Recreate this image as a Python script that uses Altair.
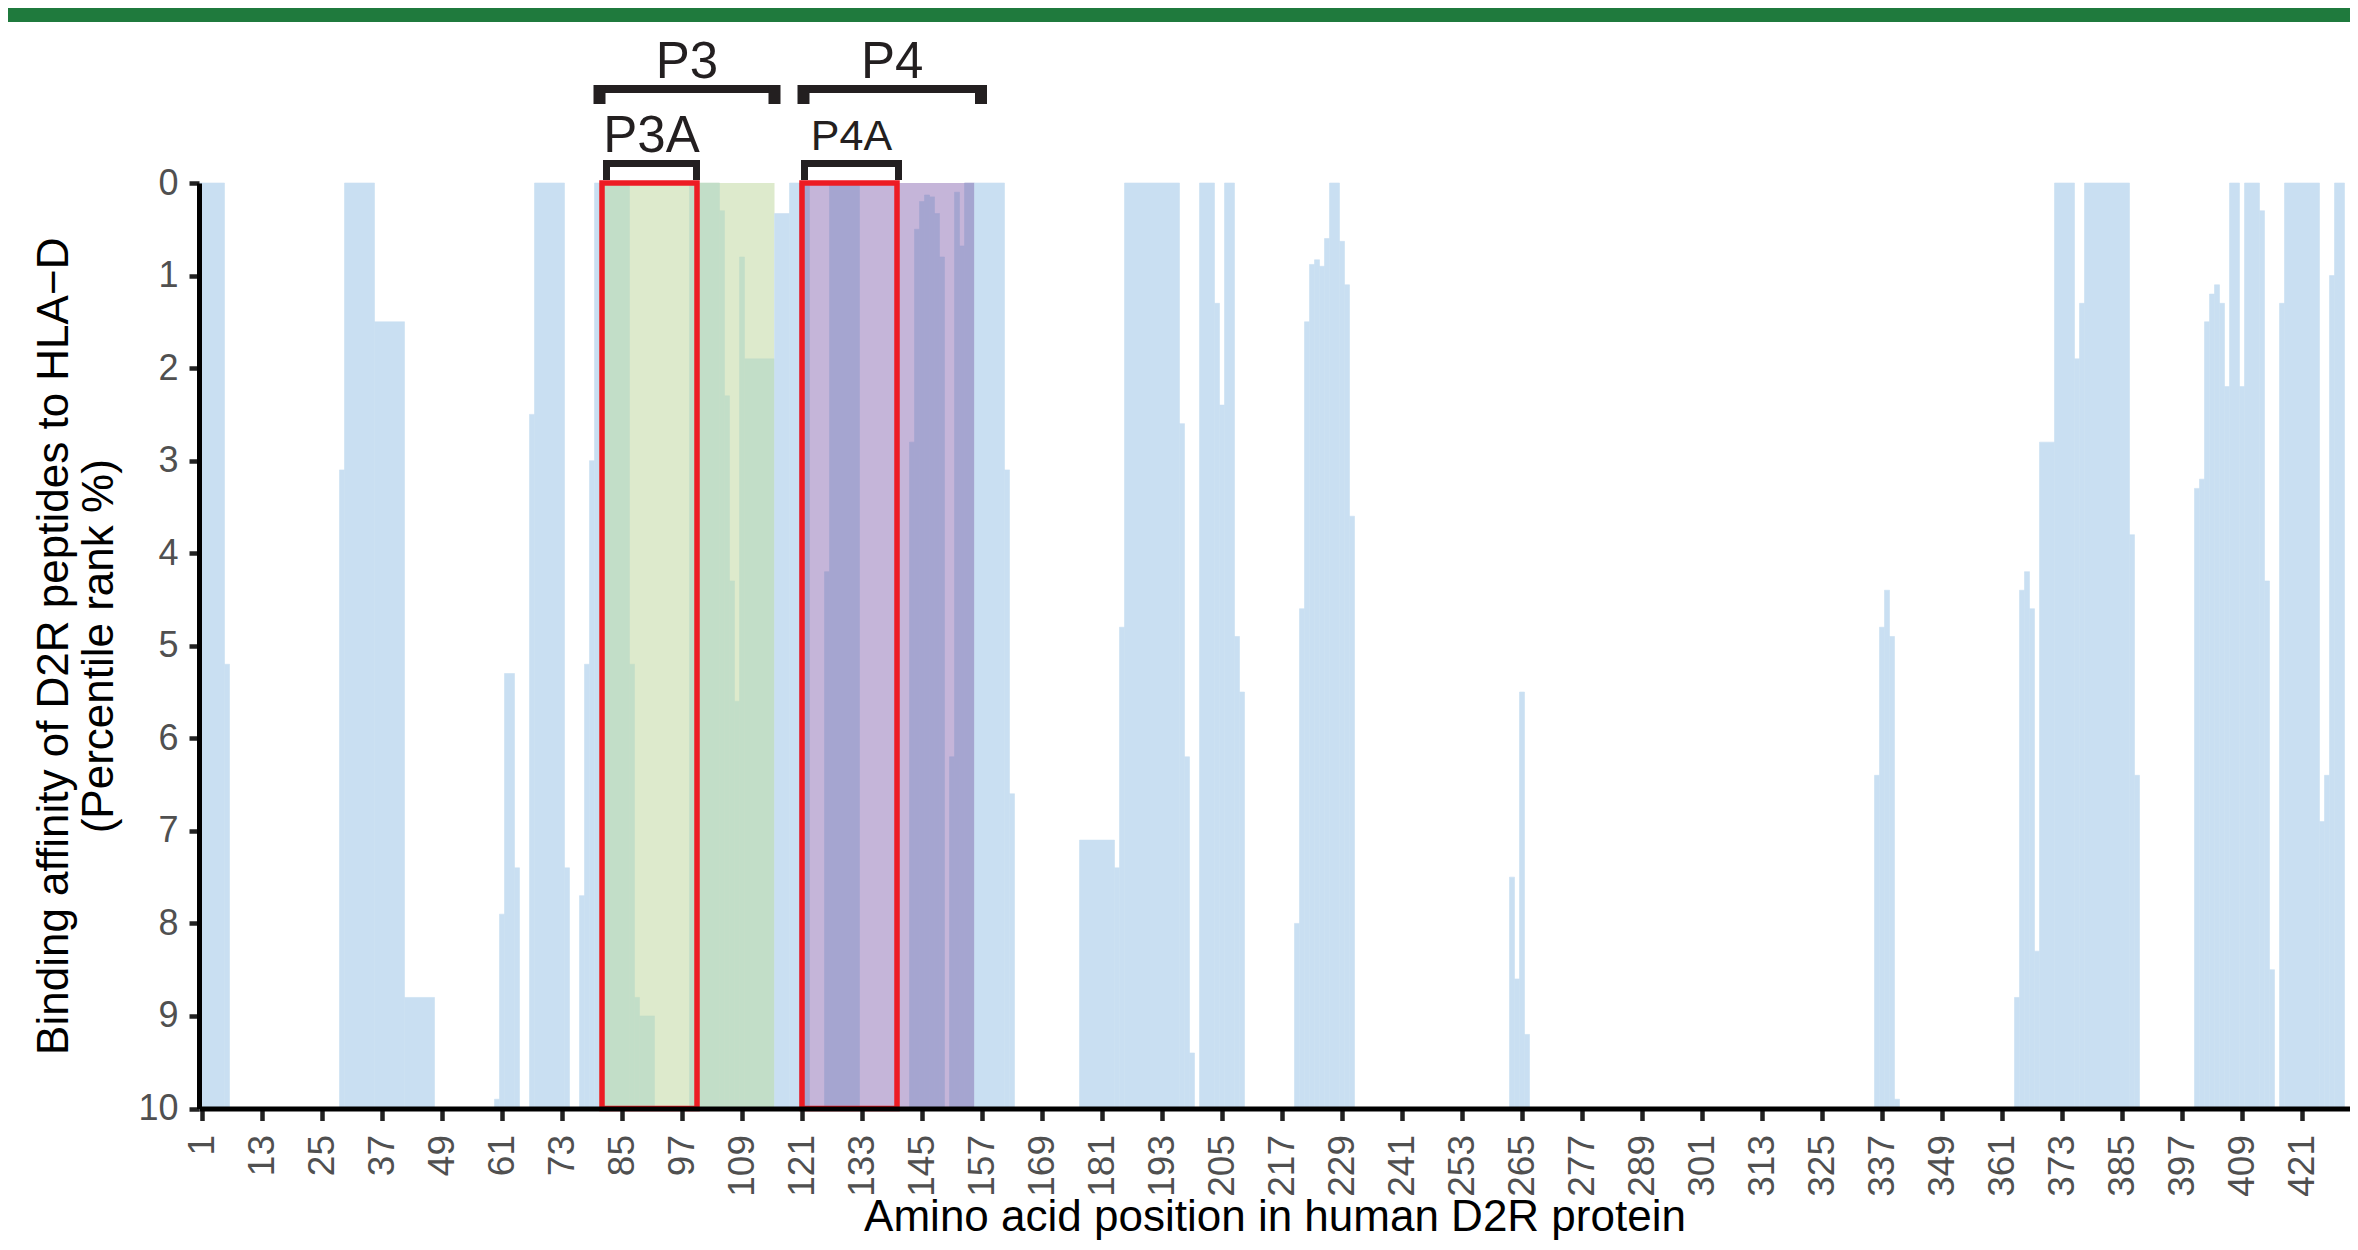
import altair as alt
import pandas as pd

# ---- data ----
# runs of residues with the same percentile rank (bars hang from 10 up to the value)
run_start = [1, 6, 29, 30, 36, 42, 60, 61, 62, 64, 67, 68, 74, 77, 78, 79, 80, 81, 87, 88, 89,
             99, 105, 106, 107, 108, 109, 110, 116, 119, 121, 126, 127, 143, 144, 145, 146, 147,
             148, 149, 151, 152, 153, 154, 156, 162, 163, 177, 184, 185, 186, 197, 198, 199, 201,
             204, 205, 206, 208, 209, 220, 221, 222, 223, 224, 225, 226, 227, 229, 230, 231, 263,
             264, 265, 266, 336, 337, 338, 339, 340, 364, 365, 366, 367, 368, 369, 372, 376, 377,
             378, 387, 388, 400, 401, 402, 403, 404, 405, 406, 407, 409, 410, 413, 414, 415, 417,
             418, 425, 426, 427, 428]
run_end = [5, 6, 29, 35, 41, 47, 60, 61, 63, 64, 67, 73, 74, 77, 78, 79, 80, 86, 87, 88, 91,
           104, 105, 106, 107, 108, 109, 115, 118, 120, 122, 126, 132, 143, 144, 145, 146, 147,
           148, 149, 151, 152, 153, 155, 161, 162, 163, 183, 184, 185, 196, 197, 198, 199, 203,
           204, 205, 207, 208, 209, 220, 221, 222, 223, 224, 225, 226, 228, 229, 230, 231, 263,
           264, 265, 266, 336, 337, 338, 339, 340, 364, 365, 366, 367, 368, 371, 375, 376, 377,
           386, 387, 388, 400, 401, 402, 403, 404, 405, 406, 408, 409, 412, 413, 414, 415, 417,
           424, 425, 426, 427, 429]
run_value = [0, 5.2, 3.1, 0, 1.5, 8.8, 9.9, 7.9, 5.3, 7.4, 2.5, 0, 7.4, 7.7, 5.2, 3.0, 0, 0, 5.2, 8.8, 9.0,
             0, 0.3, 2.3, 4.3, 5.6, 0.8, 1.9, 0.33, 0, 0, 4.2, 0, 2.8, 0.5, 0.2, 0.13, 0.15,
             0.33, 0.8, 6.2, 0.1, 0.68, 0, 0, 3.1, 6.6, 7.1, 7.4, 4.8, 0, 2.6, 6.2, 9.4, 0,
             1.3, 2.4, 0, 4.9, 5.5, 8.0, 4.6, 1.5, 0.88, 0.83, 0.9, 0.6, 0, 0.63, 1.1, 3.6, 7.5,
             8.6, 5.5, 9.2, 6.4, 4.8, 4.4, 4.9, 9.9, 8.8, 4.4, 4.2, 4.6, 8.3, 2.8, 0, 1.9, 1.3,
             0, 3.8, 6.4, 3.3, 3.2, 1.5, 1.2, 1.1, 1.3, 2.2, 0, 2.2, 0, 0.3, 4.3, 8.5, 1.3,
             0, 6.9, 6.4, 1.0, 0]

# shaded peptide regions (residues)
region_name = ["P3", "P4"]
region_first = [81, 121]
region_last = [115, 155]

# red boxes (sub-peptides)
box_name = ["P3A", "P4A"]
box_left = [81, 121]
box_right = [100, 140]

# brackets above the plot
bracket_label = ["P3", "P4", "P3A", "P4A"]
bracket_level = ["outer", "outer", "inner", "inner"]
bracket_left = [80.5, 121.3, 81.9, 121.5]
bracket_right = [115.5, 156.8, 99.9, 140.3]

x_ticks = [1, 13, 25, 37, 49, 61, 73, 85, 97, 109, 121, 133, 145, 157, 169, 181, 193, 205, 217,
           229, 241, 253, 265, 277, 289, 301, 313, 325, 337, 349, 361, 373, 385, 397, 409, 421]
y_ticks = [0, 1, 2, 3, 4, 5, 6, 7, 8, 9, 10]

x_title = "Amino acid position in human D2R protein"
y_title = ["Binding affinity of D2R peptides to HLA\u2212D", "(Percentile rank %)"]

# ---- build tables ----
def region_of(s):
    for n, a, b in zip(region_name, region_first, region_last):
        if a <= s <= b:
            return n
    return "none"

runs = pd.DataFrame({"start": run_start, "end": run_end, "value": run_value})
runs["x0"] = runs["start"] - 0.5
runs["x1"] = runs["end"] + 0.5
runs["base"] = 10
runs["region"] = [region_of(s) for s in run_start]

regions = pd.DataFrame({"name": region_name,
                        "x0": [a - 0.5 for a in region_first],
                        "x1": [b + 0.5 for b in region_last]})
regions["top"] = 0
regions["bottom"] = 10

boxes = pd.DataFrame({"name": box_name, "x0": box_left, "x1": box_right})
boxes["top"] = 0
boxes["bottom"] = 10

br = pd.DataFrame({"label": bracket_label, "level": bracket_level,
                   "left": bracket_left, "right": bracket_right})
br["mid"] = (br["left"] + br["right"]) / 2
legs = pd.concat([br[["label", "level"]].assign(pos=br["left"]),
                  br[["label", "level"]].assign(pos=br["right"])])

FONT = "Liberation Sans, Arial, Helvetica, sans-serif"
INK = "#231f20"
W, H = 2151, 925.5

xs = alt.Scale(domain=[0.4, 430.6], nice=False, zero=False)
ys = alt.Scale(domain=[0, 10], reverse=True, nice=False, zero=False)
bar_scale = alt.Scale(domain=["none", "P3", "P4"], range=["#c9dff2", "#c2dec8", "#a5a5d0"])

x_axis = alt.Axis(values=x_ticks, format="d", labelAngle=-90, labelAlign="right",
                  labelBaseline="middle", labelFontSize=37, labelFont=FONT, labelColor="#505050",
                  labelPadding=14, labelFlush=False, labelOverlap=False,
                  tickSize=12, tickWidth=4.5, tickColor="#222222",
                  domainWidth=5, domainColor="#000000", grid=False, zindex=1,
                  title=x_title, titleFont=FONT, titleFontSize=44, titleFontWeight="normal",
                  titleColor="#000000", titleY=121.5, titleBaseline="alphabetic")
y_axis = alt.Axis(values=y_ticks, format="d", labelFontSize=36, labelFont=FONT,
                  labelColor="#505050", labelPadding=11, tickSize=10, tickWidth=4.5,
                  tickColor="#222222", domainWidth=5, domainColor="#000000", grid=False, zindex=1,
                  title=y_title, titleFont=FONT, titleFontSize=44, titleFontWeight="normal",
                  titleColor="#000000", titleAngle=270, titleX=-145, titleY=H / 2,
                  titleBaseline="middle", titleAlign="center", titleLineHeight=45)


def X(field):
    return alt.X(field, scale=xs, axis=x_axis)


def Y(field):
    return alt.Y(field, scale=ys, axis=y_axis)


band = alt.Chart(pd.DataFrame({"k": [0]})).mark_rect(color="#1f7a3d").encode(
    x=alt.value(-191), x2=alt.value(W), y=alt.value(-175), y2=alt.value(-161))

background = alt.Chart(regions).mark_rect().encode(
    x=X("x0:Q"), x2="x1:Q", y=Y("top:Q"), y2="bottom:Q",
    color=alt.Color("name:N", scale=alt.Scale(domain=["P3", "P4"], range=["#ddeacc", "#c5b5d9"]),
                    legend=None))

bars = alt.Chart(runs).mark_rect(strokeWidth=0.6).encode(
    x=X("x0:Q"), x2="x1:Q", y=Y("value:Q"), y2="base:Q",
    color=alt.Color("region:N", scale=bar_scale, legend=None),
    stroke=alt.Stroke("region:N", scale=bar_scale, legend=None))

red = alt.Chart(boxes).mark_rect(fillOpacity=0, stroke="#ed1c24", strokeWidth=5.5).encode(
    x=X("x0:Q"), x2="x1:Q", y=Y("top:Q"), y2="bottom:Q")

outer = br[br["level"] == "outer"]
inner = br[br["level"] == "inner"]
legs_outer = legs[legs["level"] == "outer"]
legs_inner = legs[legs["level"] == "inner"]

outer_bar = alt.Chart(outer).mark_rule(strokeWidth=8, color=INK).encode(
    x=X("left:Q"), x2="right:Q", y=alt.value(-94))
outer_legs = alt.Chart(legs_outer).mark_rule(strokeWidth=12, color=INK).encode(
    x=X("pos:Q"), y=alt.value(-98), y2=alt.value(-79))
inner_bar = alt.Chart(inner).mark_rule(strokeWidth=7, color=INK).encode(
    x=X("left:Q"), x2="right:Q", y=alt.value(-19.5))
inner_legs = alt.Chart(legs_inner).mark_rule(strokeWidth=7, color=INK).encode(
    x=X("pos:Q"), y=alt.value(-23), y2=alt.value(-3))

outer_text = alt.Chart(outer).mark_text(font=FONT, fontSize=51, baseline="alphabetic",
                                        align="center", color=INK).encode(
    x=X("mid:Q"), y=alt.value(-105), text="label:N")
p3a_text = alt.Chart(inner[inner["label"] == "P3A"]).mark_text(
    font=FONT, fontSize=51, baseline="alphabetic", align="center", color=INK).encode(
    x=X("mid:Q"), y=alt.value(-31), text="label:N")
p4a_text = alt.Chart(inner[inner["label"] == "P4A"]).mark_text(
    font=FONT, fontSize=43, baseline="alphabetic", align="center", color=INK).encode(
    x=X("mid:Q"), y=alt.value(-33), text="label:N")

chart = alt.layer(
    background, bars, red, outer_bar, outer_legs, inner_bar, inner_legs,
    outer_text, p3a_text, p4a_text, band
).resolve_scale(color="independent", stroke="independent").properties(
    width=W, height=H,
    autosize=alt.AutoSizeParams(type="none"),
    padding={"left": 191, "top": 175, "right": 0, "bottom": 135},
    background="white",
).configure_view(strokeWidth=0)

chart.save("out.html", embed_options={"renderer": "svg", "actions": False})
